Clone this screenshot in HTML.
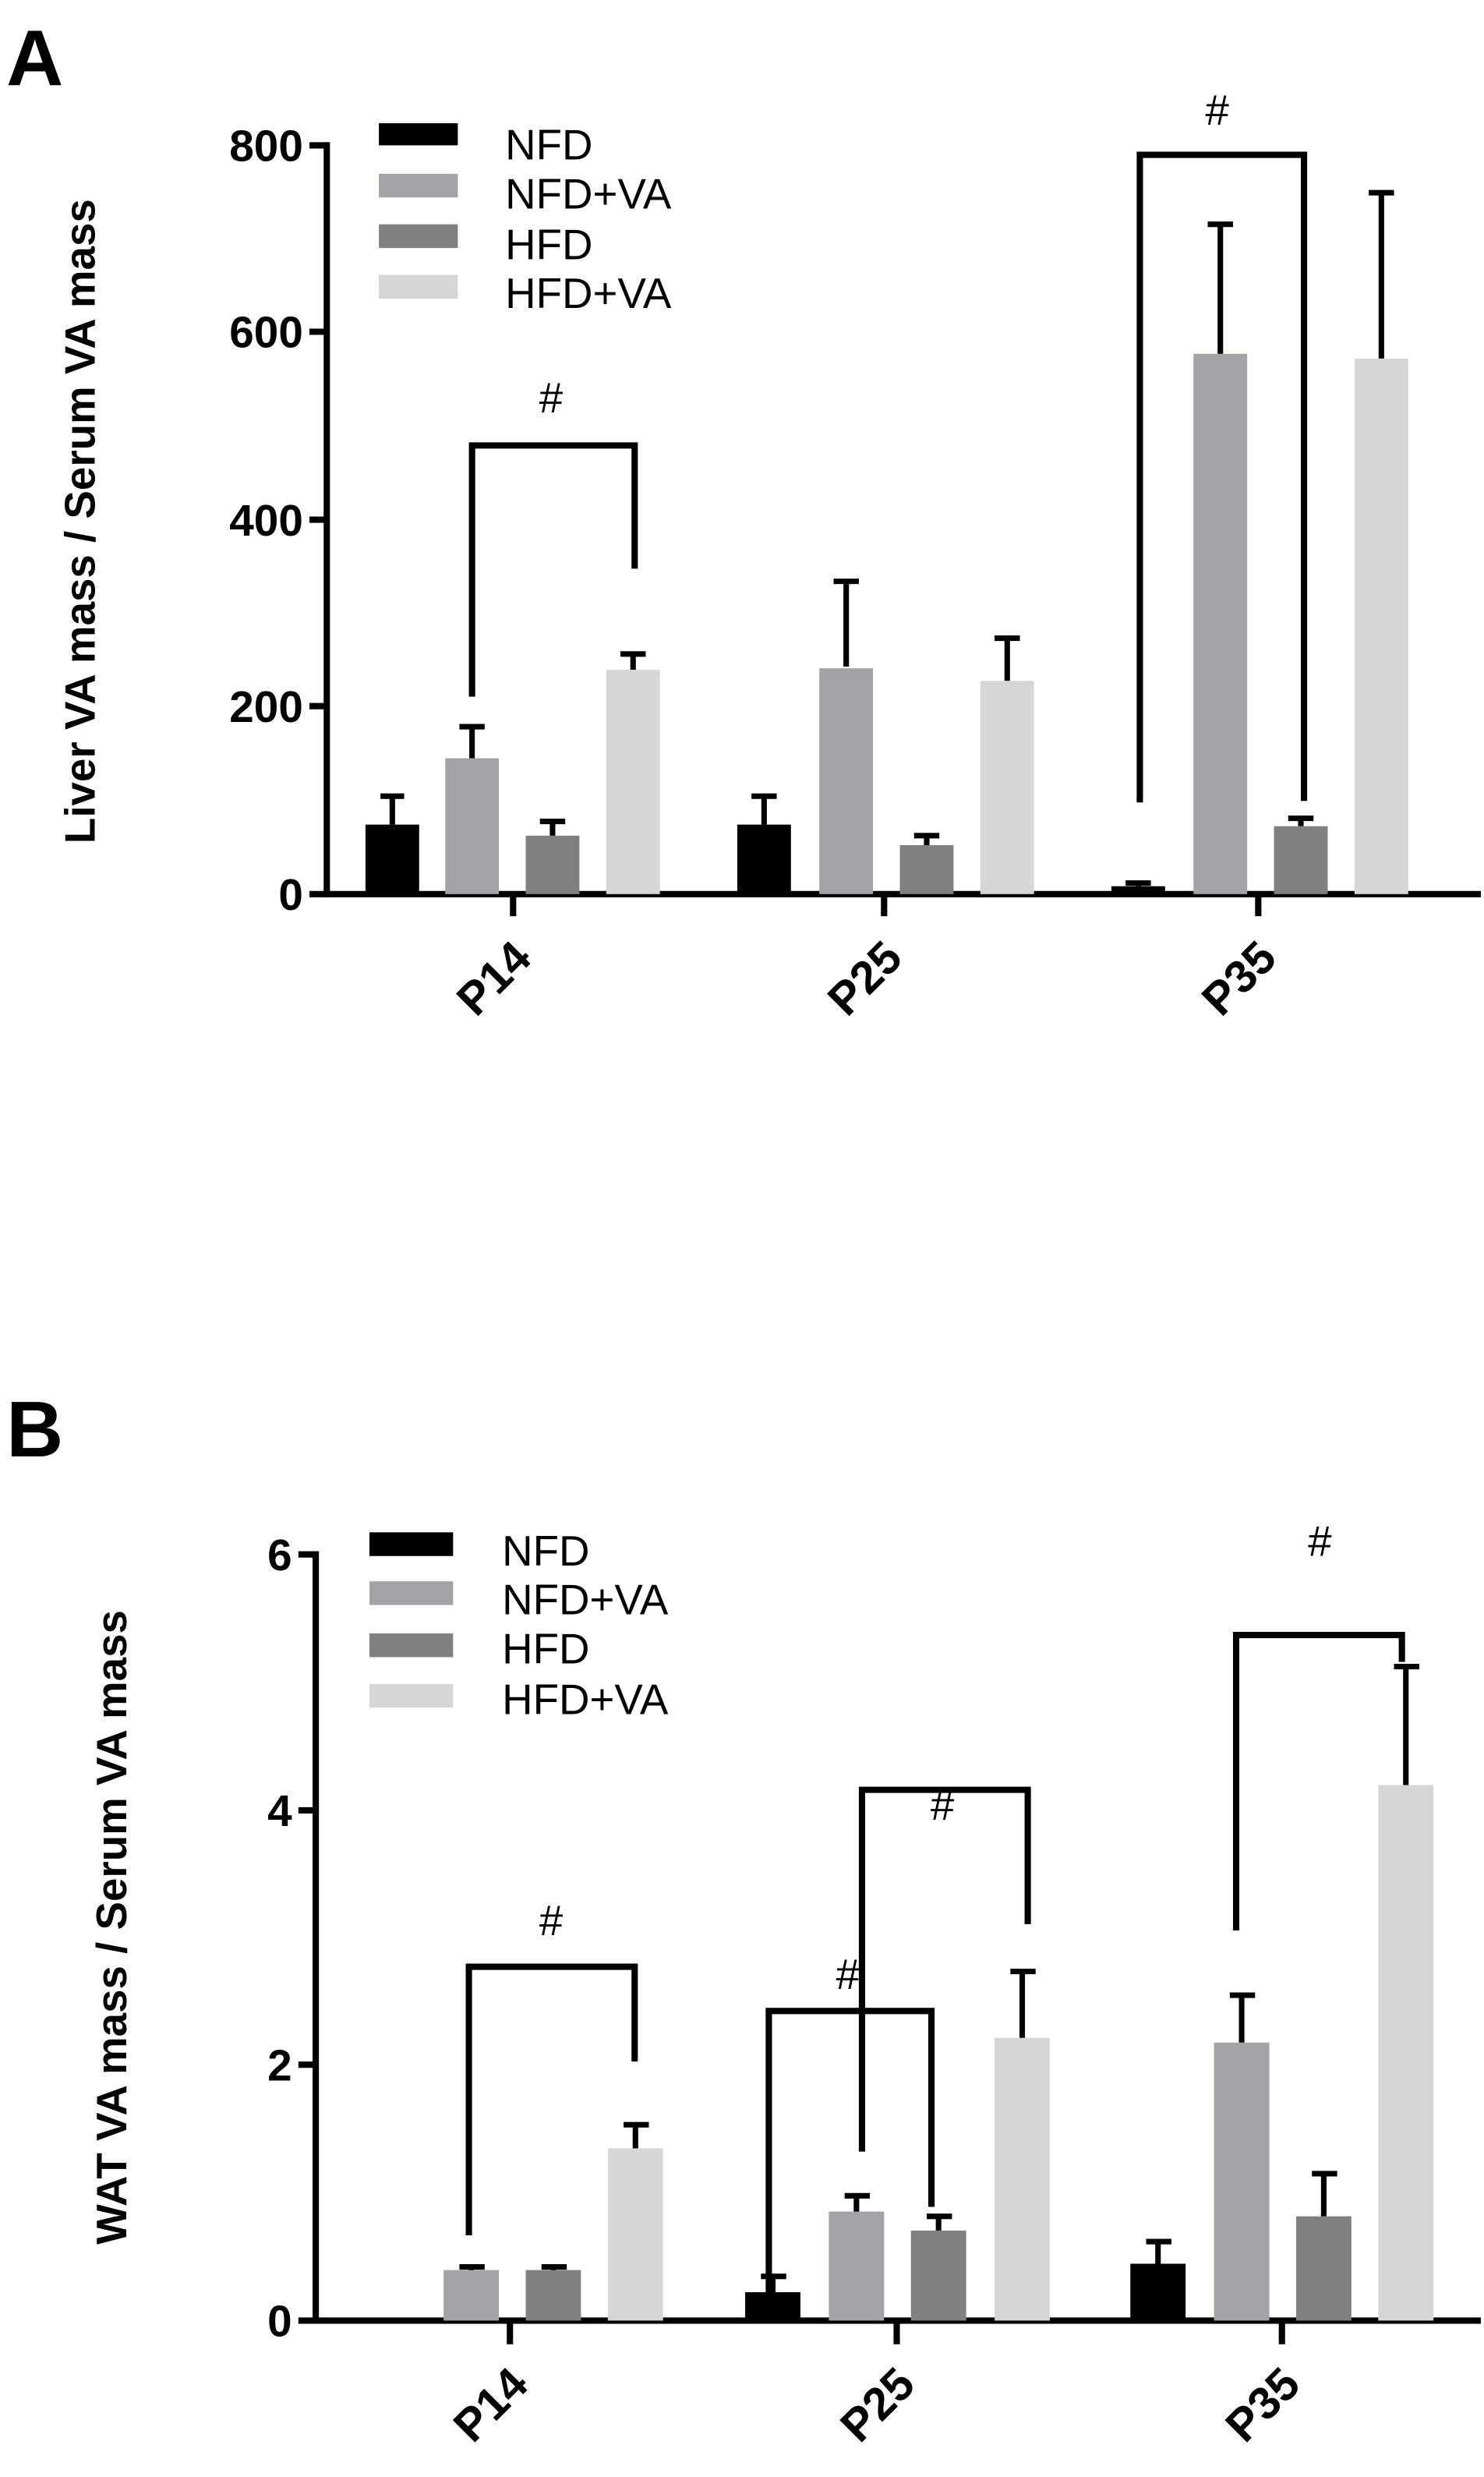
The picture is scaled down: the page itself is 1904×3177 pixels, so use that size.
<!DOCTYPE html>
<html><head><meta charset="utf-8"><style>html,body{margin:0;padding:0;background:#fff}svg{display:block}</style></head><body>
<svg width="1904" height="3177" viewBox="0 0 940 1568" preserveAspectRatio="none" xmlns="http://www.w3.org/2000/svg" font-family="Liberation Sans, sans-serif">
<g fill="#000" font-weight="bold">
<text x="4" y="54" font-size="50">A</text>
<text x="4" y="922" font-size="50">B</text>
</g>
<!-- Panel A -->
<g stroke="#000" stroke-width="4" fill="none">
<line x1="207" y1="90" x2="207" y2="568"/>
<line x1="205" y1="566" x2="938" y2="566"/>
<line x1="196" y1="92" x2="207" y2="92"/><line x1="196" y1="210" x2="207" y2="210"/><line x1="196" y1="329" x2="207" y2="329"/><line x1="196" y1="447" x2="207" y2="447"/><line x1="196" y1="566" x2="207" y2="566"/>
<line x1="325" y1="566" x2="325" y2="580"/><line x1="560" y1="566" x2="560" y2="580"/><line x1="797" y1="566" x2="797" y2="580"/>
</g>
<g font-size="28" font-weight="bold" text-anchor="end">
<text x="192" y="102">800</text><text x="192" y="220">600</text><text x="192" y="339">400</text><text x="192" y="457">200</text><text x="192" y="576">0</text>
</g>
<text transform="translate(60,330) rotate(-90)" font-size="27" font-weight="bold" text-anchor="middle">Liver VA mass / Serum VA mass</text>
<g font-size="29" font-weight="bold" text-anchor="end">
<text transform="translate(338,608) rotate(-45)">P14</text>
<text transform="translate(573,608) rotate(-45)">P25</text>
<text transform="translate(810,608) rotate(-45)">P35</text>
</g>
<g>
<rect x="240" y="78" width="50" height="14" fill="#000"/><rect x="240" y="110" width="50" height="15" fill="#a3a3a7"/><rect x="240" y="142" width="50" height="15" fill="#808080"/><rect x="240" y="174" width="50" height="15" fill="#d6d6d6"/>
<g font-size="27"><text x="320" y="101">NFD</text><text x="320" y="132">NFD+VA</text><text x="320" y="164">HFD</text><text x="320" y="195">HFD+VA</text></g>
</g>
<g stroke="#000" stroke-width="3.5" fill="none">
<path d="M248.5 522V504M241 504h15 M299 480V460M291 460h16 M350 529V520M342 520h16 M401 424V414M393 414h16"/>
<path d="M484 522V504M476 504h16 M536 422V368M528 368h16 M587 535V529M579 529h16 M638 431V404M630 404h16"/>
<path d="M721 561V559M713 559h16 M773 224V142M765 142h16 M824 523V518M816 518h16 M875 227V122M867 122h16"/>
<path d="M299 441V282H402V360" stroke-width="4"/>
<path d="M722 508V98H826V507" stroke-width="4"/>
</g>
<g font-size="27" text-anchor="middle"><text x="349" y="261">#</text><text x="771" y="79">#</text></g>
<g>
<rect x="231.5" y="522" width="34" height="44" fill="#000"/>
<rect x="282" y="480" width="34" height="86" fill="#a3a3a7"/>
<rect x="333" y="529" width="34" height="37" fill="#808080"/>
<rect x="384" y="424" width="34" height="142" fill="#d6d6d6"/>
<rect x="467" y="522" width="34" height="44" fill="#000"/>
<rect x="519" y="423" width="34" height="143" fill="#a3a3a7"/>
<rect x="570" y="535" width="34" height="31" fill="#808080"/>
<rect x="621" y="431" width="34" height="135" fill="#d6d6d6"/>
<rect x="704" y="561" width="34" height="5" fill="#000"/>
<rect x="756" y="224" width="34" height="342" fill="#a3a3a7"/>
<rect x="807" y="523" width="34" height="43" fill="#808080"/>
<rect x="858" y="227" width="34" height="339" fill="#d6d6d6"/>
</g>
<!-- Panel B -->
<g stroke="#000" stroke-width="4" fill="none">
<line x1="200" y1="982" x2="200" y2="1471"/>
<line x1="198" y1="1469" x2="938" y2="1469"/>
<line x1="189" y1="984" x2="200" y2="984"/><line x1="189" y1="1146" x2="200" y2="1146"/><line x1="189" y1="1307" x2="200" y2="1307"/><line x1="189" y1="1469" x2="200" y2="1469"/>
<line x1="323" y1="1469" x2="323" y2="1484"/><line x1="568" y1="1469" x2="568" y2="1484"/><line x1="812" y1="1469" x2="812" y2="1484"/>
</g>
<g font-size="28" font-weight="bold" text-anchor="end">
<text x="185" y="994">6</text><text x="185" y="1156">4</text><text x="185" y="1317">2</text><text x="185" y="1479">0</text>
</g>
<text transform="translate(80,1220) rotate(-90)" font-size="27" font-weight="bold" text-anchor="middle">WAT VA mass / Serum VA mass</text>
<g font-size="29" font-weight="bold" text-anchor="end">
<text transform="translate(336,1511) rotate(-45)">P14</text>
<text transform="translate(581,1511) rotate(-45)">P25</text>
<text transform="translate(825,1511) rotate(-45)">P35</text>
</g>
<g>
<rect x="234" y="970" width="53" height="15" fill="#000"/><rect x="234" y="1001" width="53" height="15" fill="#a3a3a7"/><rect x="234" y="1034" width="53" height="15" fill="#808080"/><rect x="234" y="1066" width="53" height="15" fill="#d6d6d6"/>
<g font-size="27"><text x="318" y="991">NFD</text><text x="318" y="1022">NFD+VA</text><text x="318" y="1053">HFD</text><text x="318" y="1085">HFD+VA</text></g>
</g>
<g stroke="#000" stroke-width="4" fill="none">
<path d="M297 1415V1245H402V1305"/>
<path d="M487 1455V1273H590V1397"/>
<path d="M546 1362V1133H651V1218"/>
<path d="M783 1222V1035H888V1052"/>
</g>
<g>
<rect x="281" y="1437" width="35" height="32" fill="#a3a3a7"/>
<rect x="333" y="1437" width="35" height="32" fill="#808080"/>
<rect x="385" y="1360" width="35" height="109" fill="#d6d6d6"/>
<rect x="472" y="1451" width="35" height="18" fill="#000"/>
<rect x="525" y="1400" width="35" height="69" fill="#a3a3a7"/>
<rect x="577" y="1412" width="35" height="57" fill="#808080"/>
<rect x="630" y="1290" width="35" height="179" fill="#d6d6d6"/>
<rect x="716" y="1433" width="35" height="36" fill="#000"/>
<rect x="769" y="1293" width="35" height="176" fill="#a3a3a7"/>
<rect x="821" y="1403" width="35" height="66" fill="#808080"/>
<rect x="873" y="1130" width="35" height="339" fill="#d6d6d6"/>
</g>
<g stroke="#000" stroke-width="3.5" fill="none">
<path d="M298.5 1437V1435M291 1435h16 M350.5 1437V1435M343 1435h16 M402.5 1360V1345M395 1345h16"/>
<path d="M489.5 1451V1441M482 1441h16 M542.5 1400V1390M535 1390h16 M594.5 1412V1403M587 1403h16 M647.5 1290V1248M640 1248h16"/>
<path d="M733.5 1433V1419M726 1419h16 M786.5 1293V1263M779 1263h16 M838.5 1403V1376M831 1376h16 M890.5 1130V1055M883 1055h16"/>
</g>
<g font-size="27" text-anchor="middle"><text x="349" y="1225">#</text><text x="537" y="1259">#</text><text x="597" y="1152">#</text><text x="836" y="985">#</text></g>
</svg>
</body></html>
